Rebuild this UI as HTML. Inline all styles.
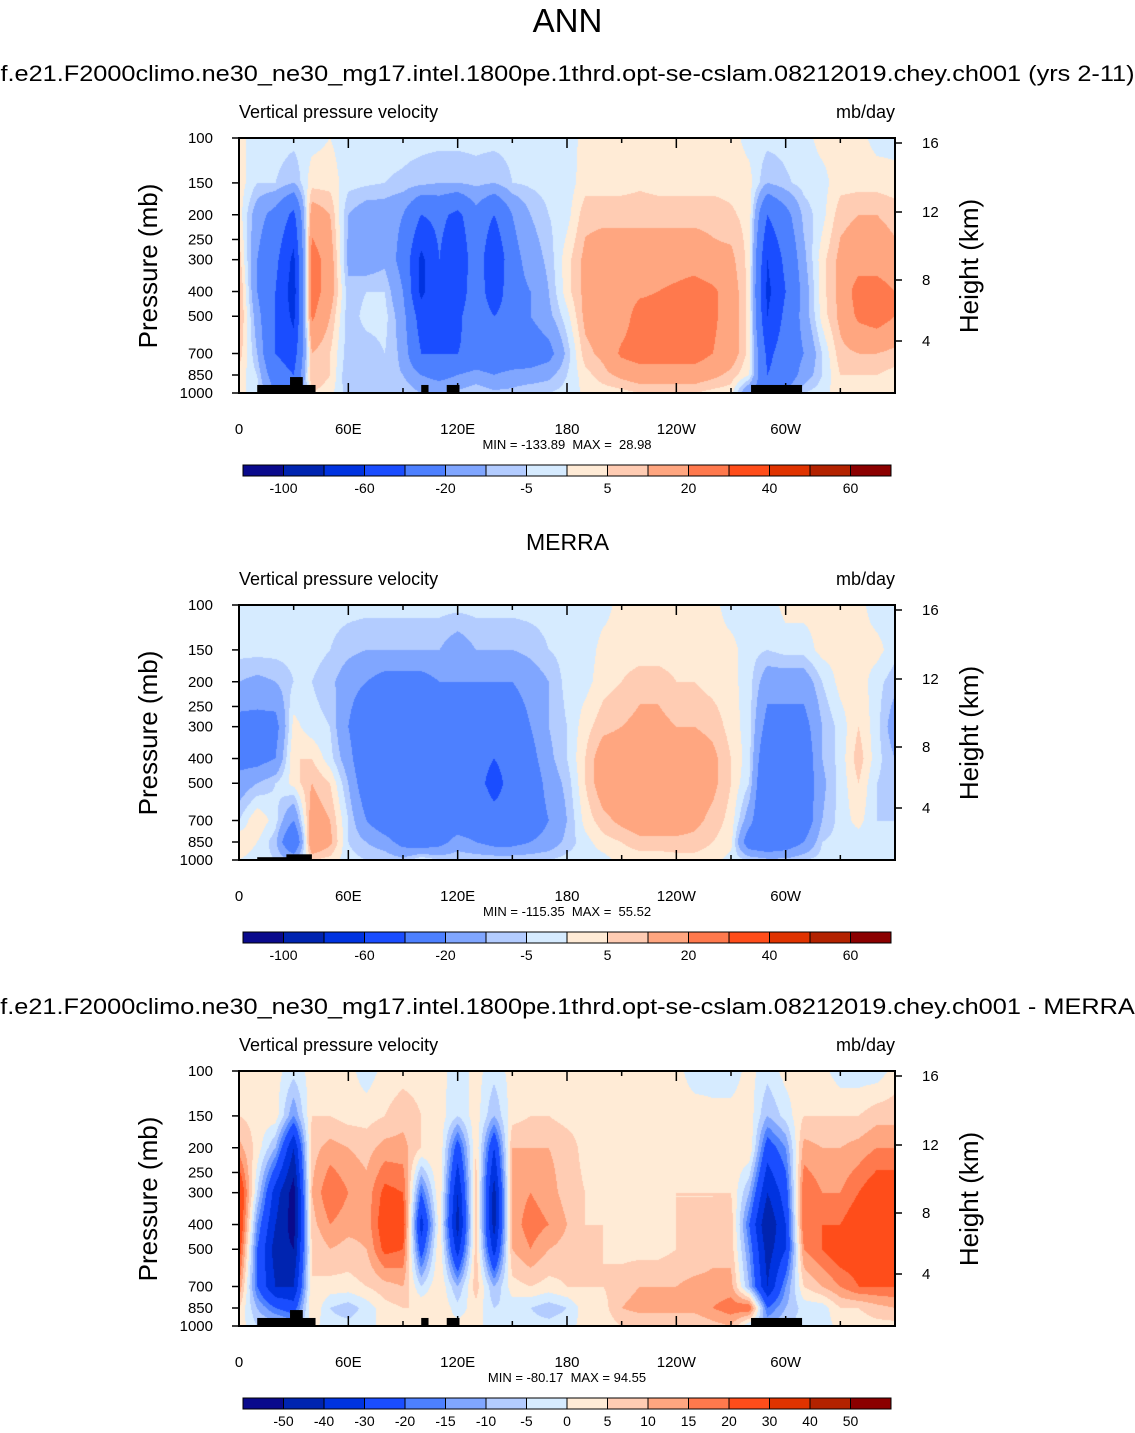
<!DOCTYPE html>
<html><head><meta charset="utf-8">
<style>
body{margin:0;background:#fff;width:1135px;height:1433px;overflow:hidden;font-family:"Liberation Sans",Helvetica,sans-serif;}
#root{position:relative;width:1135px;height:1433px;}
.t{position:absolute;white-space:nowrap;color:#000;}
.wide{transform:scaleX(1.15);transform-origin:50% 50%;}
canvas{position:absolute;}
svg{position:absolute;left:0;top:0;}
</style></head>
<body>
<div id="root">
<div class="t" style="left:0;width:1135px;text-align:center;top:2px;font-size:33px;">ANN</div>
<div class="t wide" style="left:0;width:1135px;text-align:center;top:61px;font-size:22px;">f.e21.F2000climo.ne30_ne30_mg17.intel.1800pe.1thrd.opt-se-cslam.08212019.chey.ch001 (yrs 2-11)</div>
<div class="t" style="left:0;width:1135px;text-align:center;top:529px;font-size:23px;">MERRA</div>
<div class="t wide" style="left:0;width:1135px;text-align:center;top:994px;font-size:22px;">f.e21.F2000climo.ne30_ne30_mg17.intel.1800pe.1thrd.opt-se-cslam.08212019.chey.ch001 - MERRA</div>
</div>
<script>
const lonNodes=[0,10,20,30,40,50,60,70,80,90,100,110,120,130,140,150,160,170,180,190,200,210,220,230,240,250,260,270,280,290,300,310,320,330,340,350,360];
const presNodes=[100,150,200,300,400,500,700,850,1000];
const pressureTicks=[100,150,200,250,300,400,500,700,850,1000];
const lonTickLabels=["0","60E","120E","180","120W","60W"];
const heightTicks=[16,12,8,4];
const heightTickY=[143,212,280,341];
const levels12=[-100,-80,-60,-40,-20,-10,-5,0,5,10,20,30,40,50,60];
const levels3=[-50,-40,-30,-20,-15,-10,-5,0,5,10,15,20,30,40,50];
const colors=["#0a0a8c","#0024b0","#0033e0","#1a4dff","#4d80ff","#80a6ff","#b3ccff","#d6ebff","#ffebd6","#ffccb3","#ffa680","#ff794d","#ff4d1a","#e03300","#b32200","#8b0000"];
const panelMinMax=["MIN = -133.89\u00a0\u00a0MAX =\u00a0\u00a028.98","MIN = -115.35\u00a0\u00a0MAX =\u00a0\u00a055.52","MIN = -80.17\u00a0\u00a0MAX = 94.55"];
const model=[
[2,3,3,8,12,12,8,3,2],[-3,-5,-15,-20,-20,-15,-10,-5,-3],[-2,-5,-25,-35,-40,-40,-40,-30,-20],[-3,-10,-45,-65,-70,-65,-50,-40,-30],
[-2,3,15,25,25,22,10,10,5],[0,3,10,15,15,10,5,5,2],[-3,-3,-10,-12,-8,-8,-8,-10,-8],[-3,-4,-15,-15,-5,-3,-8,-10,-8],
[-3,-5,-15,-12,-5,-3,-5,-8,-5],[-3,-6,-20,-25,-20,-15,-12,-10,-5],[-3,-8,-40,-65,-65,-50,-40,-20,-10],[-3,-10,-35,-40,-40,-40,-40,-25,-10],
[-3,-10,-45,-60,-55,-45,-40,-20,-8],[-3,-8,-25,-25,-25,-25,-35,-15,-5],[-3,-10,-40,-60,-55,-40,-35,-20,-8],[-3,-5,-20,-25,-25,-30,-35,-15,-8],
[-3,-4,-10,-15,-20,-20,-30,-15,-5],[-3,-3,-5,-8,-10,-12,-25,-12,-5],[-3,-3,-2,3,3,-2,-8,-5,-3],[2,3,8,12,12,12,8,3,1],
[2,3,8,15,15,15,12,8,2],[2,3,8,15,15,15,22,12,3],[2,4,8,15,18,25,25,15,5],[2,3,8,15,20,25,25,15,5],
[2,3,8,15,22,25,25,15,5],[2,3,8,15,25,25,25,15,5],[2,3,8,12,22,22,20,12,3],[2,3,6,12,15,15,15,8,2],
[-2,2,3,3,3,3,3,0,-20],[-3,-10,-40,-60,-65,-60,-45,-40,-30],[-3,-6,-25,-35,-40,-35,-30,-30,-20],[-2,-3,-8,-12,-15,-15,-20,-15,-5],
[2,-2,-2,3,3,2,-5,-5,-2],[2,3,8,12,12,12,8,5,3],[2,3,10,15,25,22,10,5,3],[-2,3,10,15,25,25,10,5,3],[-2,2,8,12,20,20,8,3,2]];
const merra=[
[-3,-3,-10,-25,-25,-15,-5,5,0],[-3,-3,-12,-25,-25,-10,5,0,-3],[-3,-3,-10,-25,-20,-5,-3,-8,-5],[-3,-3,-5,2,5,2,-20,-40,-10],
[-3,-3,-5,-3,5,10,15,20,5],[-3,-5,-8,-5,-3,5,10,12,3],[-3,-8,-15,-20,-15,-10,-5,-5,-3],[-3,-10,-20,-35,-35,-30,-20,-10,-5],
[-3,-10,-25,-35,-35,-35,-30,-15,-5],[-3,-10,-25,-35,-35,-35,-35,-25,-8],[-3,-10,-25,-35,-35,-40,-35,-30,0],[-3,-10,-20,-30,-35,-40,-30,-25,-5],
[-3,-15,-20,-25,-35,-35,-30,-15,-5],[-3,-10,-20,-30,-35,-35,-30,-20,-5],[-3,-10,-20,-35,-40,-45,-35,-25,-5],[-3,-10,-20,-30,-35,-35,-35,-25,-5],
[-3,-8,-15,-20,-25,-30,-30,-20,-5],[-3,-5,-10,-10,-12,-15,-20,-15,-5],[-3,-3,-3,-5,-5,-8,-10,-8,-3],[-3,-3,-2,3,5,5,2,-2,-3],
[-2,2,3,8,15,15,8,3,-2],[2,2,5,10,15,15,12,5,2],[2,2,8,12,15,15,15,8,2],[2,2,8,12,15,15,15,8,2],
[2,2,5,10,15,15,15,8,3],[2,2,5,10,15,15,12,8,3],[2,2,3,8,12,12,8,5,2],[-3,2,2,3,5,5,3,2,-2],
[-3,-3,-3,-3,-3,-5,-15,-30,-5],[-3,-5,-15,-25,-35,-40,-40,-35,-8],[2,-3,-15,-25,-30,-35,-40,-30,-8],[2,-3,-15,-25,-30,-30,-30,-20,-5],
[2,2,-5,-10,-10,-12,-10,-5,-3],[2,2,2,-3,-3,-3,-3,-3,-3],[2,2,3,5,8,5,2,-3,-3],[-3,2,-3,-3,-3,-5,-5,-5,-3],[-3,-3,-8,-15,-10,-8,-5,-3,-3]];
const diff=[
[3,5,12,30,30,25,15,5,3],[2,3,3,-5,-15,-20,-20,-10,-5],[2,3,-10,-35,-40,-45,-40,-20,-5],[-3,-15,-40,-55,-55,-50,-40,-25,-10],
[2,5,8,10,8,5,5,5,2],[2,5,12,20,15,10,3,-5,-3],[2,3,10,15,12,8,3,-8,-3],[-3,3,8,12,12,10,5,-3,-2],
[2,5,12,22,25,22,8,3,2],[3,8,12,20,25,20,10,5,2],[3,5,5,-20,-35,-25,-5,5,3],[2,3,5,5,3,5,5,5,2],
[-3,-5,-25,-40,-45,-35,-10,-3,2],[2,3,5,8,8,8,8,3,2],[-3,-10,-30,-45,-45,-35,-10,-5,-3],[2,3,10,12,12,10,3,-3,-2],
[2,5,10,15,18,15,5,-5,-3],[2,5,10,12,15,10,3,-8,-3],[2,3,8,8,10,8,5,-5,-2],[2,3,3,5,5,5,5,3,2],
[2,3,3,3,5,5,5,3,2],[2,3,3,3,3,3,8,10,5],[2,2,3,3,3,3,10,12,5],[2,2,3,3,2,3,10,12,5],
[2,3,3,5,5,5,10,12,5],[-3,3,3,5,5,5,12,12,5],[-3,2,3,5,5,8,12,15,8],[-3,2,3,5,8,8,12,18,10],
[2,3,5,-10,-20,-15,-10,20,-5],[-3,-10,-25,-40,-50,-45,-40,-20,-10],[2,-3,-15,-25,-30,-30,-15,-10,-5],[2,5,12,20,20,15,5,-3,-3],
[2,5,10,15,20,20,10,-3,-3],[-3,5,10,15,20,25,15,5,2],[-3,5,12,20,25,25,20,5,2],[-3,8,15,25,25,25,20,8,3],[2,8,15,25,30,25,20,10,3]];
const panelData=[model,merra,diff];
const panelLevels=[levels12,levels12,levels3];

const root=document.getElementById('root');
const NS='http://www.w3.org/2000/svg';
const PX0=239,PW=656,PH=255;
const xOf=lon=>PX0+lon/360*PW;
const yOf=(p,top)=>top+Math.log10(p/100)*PH;
function colorFor(v,lv){let i=0;while(i<lv.length&&v>=lv[i])i++;return colors[i];}
function interp(grid,lon,p){
  let i=Math.min(Math.floor(lon/10),35);let fx=(lon-lonNodes[i])/10;
  const lp=Math.log10(p);let j=0;while(j<presNodes.length-2&&p>presNodes[j+1])j++;
  const l0=Math.log10(presNodes[j]),l1=Math.log10(presNodes[j+1]);let fy=(lp-l0)/(l1-l0);
  fy=Math.max(0,Math.min(1,fy));
  const a=grid[i][j],b=grid[i+1][j],c=grid[i][j+1],d=grid[i+1][j+1];
  return (a*(1-fx)+b*fx)*(1-fy)+(c*(1-fx)+d*fx)*fy;
}
const svg=document.createElementNS(NS,'svg');
svg.setAttribute('width','1135');svg.setAttribute('height','1433');
function sl(tag,attrs){const e=document.createElementNS(NS,tag);for(const k in attrs)e.setAttribute(k,attrs[k]);svg.appendChild(e);return e;}
function txt(x,y,s,size,anchor){const e=sl('text',{x:x,y:y,'font-size':size,'text-anchor':anchor||'start','font-family':'Liberation Sans, sans-serif'});e.textContent=s;return e;}
const tops=[138,605,1071];
const landBoxes=[[[10,42,1000,930],[28,35,1000,866],[100,104,1000,930],[114,121,1000,930],[281,309,1000,930]],
[[10,29,1000,975],[26,40,1000,950]],
[[10,42,1000,930],[28,35,1000,866],[100,104,1000,930],[114,121,1000,930],[281,309,1000,930]]];
for(let k=0;k<3;k++){
  const top=tops[k],grid=panelData[k],lv=panelLevels[k];
  const cv=document.createElement('canvas');cv.width=PW;cv.height=PH;
  cv.style.left=PX0+'px';cv.style.top=top+'px';
  
  
  const ctx=cv.getContext('2d');const img=ctx.createImageData(PW,PH);
  for(let y=0;y<PH;y++){const p=100*Math.pow(10,(y+0.5)/PH);
    for(let x=0;x<PW;x++){const lon=(x+0.5)/PW*360;const c=colorFor(interp(grid,lon,p),lv);
      const o=(y*PW+x)*4;img.data[o]=parseInt(c.substr(1,2),16);img.data[o+1]=parseInt(c.substr(3,2),16);img.data[o+2]=parseInt(c.substr(5,2),16);img.data[o+3]=255;}}
  ctx.putImageData(img,0,0);root.appendChild(cv);
  landBoxes[k].forEach(b=>{const r=sl('rect',{x:xOf(b[0]),y:yOf(b[3],top),width:xOf(b[1])-xOf(b[0]),height:yOf(b[2],top)-yOf(b[3],top),fill:'#000'});
    });
  const fr=sl('rect',{x:PX0,y:top,width:PW,height:PH,fill:'none',stroke:'#000','stroke-width':2});
  
  pressureTicks.forEach(p=>{const y=yOf(p,top);sl('line',{x1:PX0-7,x2:PX0,y1:y,y2:y,stroke:'#000','stroke-width':1.5});
    const t=txt(213,y+5,String(p),15,'end');});
  heightTicks.forEach((h,i)=>{const y=heightTickY[i]+(top-138);sl('line',{x1:PX0+PW,x2:PX0+PW+7,y1:y,y2:y,stroke:'#000','stroke-width':1.5});
    const t=txt(922,y+5,String(h),15,'start');});
  for(let lon=0;lon<=360;lon+=30){const x=xOf(lon);const len=lon%60===0?10:5;
    sl('line',{x1:x,x2:x,y1:top+PH,y2:top+PH-len,stroke:'#000','stroke-width':1.5});
    sl('line',{x1:x,x2:x,y1:top,y2:top+len,stroke:'#000','stroke-width':1.5});}
  lonTickLabels.forEach((s,i)=>{const t=txt(xOf(i*60),top+PH+41,s,15,'middle');});
  let t=txt(239,top-20,'Vertical pressure velocity',18,'start');
  t=txt(895,top-20,'mb/day',18,'end');
  t=txt(567,top+PH+56,panelMinMax[k],13,'middle');
  t=txt(0,0,'Pressure (mb)',26,'middle');t.setAttribute('transform','translate(157,'+(top+128)+') rotate(-90)');
  
  t=txt(0,0,'Height (km)',26,'middle');t.setAttribute('transform','translate(978,'+(top+128)+') rotate(-90)');
  
  const cy=top+327,bw=648/16;
  colors.forEach((c,i)=>{const r=sl('rect',{x:243+i*bw,y:cy,width:bw,height:11,fill:c,stroke:'#000','stroke-width':1});
    });
  lv.forEach((v,i)=>{if(k<2&&i%2===1)return;const l=txt(243+(i+1)*bw,cy+28,String(v),14,'middle');
    });
}
root.appendChild(svg);
</script>
</body></html>
